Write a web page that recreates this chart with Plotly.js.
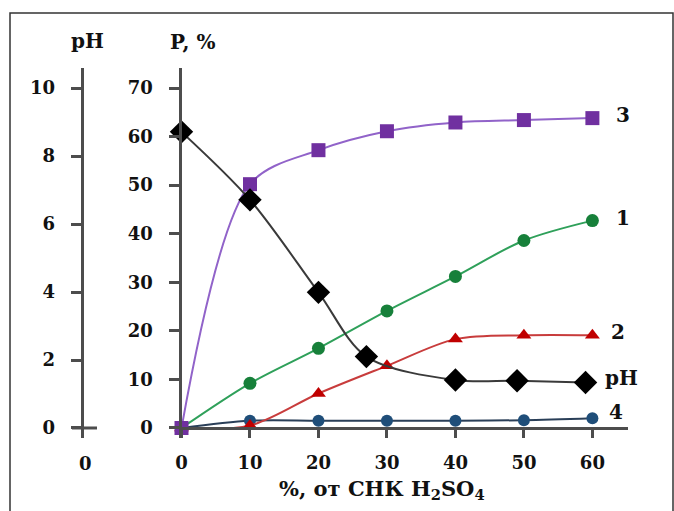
<!DOCTYPE html>
<html><head><meta charset="utf-8">
<script src="https://cdn.plot.ly/plotly-3.0.1.min.js"></script>
<style>body{margin:0;background:#fff}#chart{width:674px;height:511px}</style>
</head><body><div id="chart"></div>
<script>
// ---- data ----
const acid = [0, 10, 20, 30, 40, 50, 60];
const series1 = [0, 9.2, 16.4, 24.1, 31.2, 38.6, 42.7];
const series2 = [0, 0.5, 7.1, 12.8, 18.3, 19.1, 19.1];
const series3 = [0, 50.2, 57.2, 61.1, 62.9, 63.4, 63.8];
const series4 = [0, 1.5, 1.5, 1.5, 1.5, 1.6, 2.0];
const phAcid = [0, 10, 20, 27, 40, 49, 59];
const phValues = [8.71, 6.71, 3.99, 2.10, 1.41, 1.39, 1.34];
const xTicks = [0, 10, 20, 30, 40, 50, 60];
const pTicks = [0, 10, 20, 30, 40, 50, 60, 70];
const phTicks = [0, 2, 4, 6, 8, 10];
const names = ['1', '2', '3', '4', 'pH'];
const xTitle = '%, от СНК H<sub>2</sub>SO<sub>4</sub>';
const pTitle = 'P, %';
const phTitle = 'pH';

// ---- layout helpers ----
const W = 674, H = 511, L = 40, R = 40, T = 68, B = 73;
const pw = W - L - R, ph = H - T - B;
const px = v => (v - L) / pw;
const py = v => (H - B - v) / ph;
const FONT = 'DejaVu Serif';
const AX = '#4d4d4d';
const tf = {family: FONT, size: 18, color: '#111', weight: 700};
const pRange = [-2.06, 74.12];

function tr(x, y, name, color, lineColor, symbol, size, yaxis) {
  return {
    x: x, y: y, name: name, type: 'scatter', mode: 'lines+markers',
    yaxis: yaxis || 'y', cliponaxis: false,
    line: {color: lineColor, width: 2, shape: 'spline', smoothing: 0.9},
    marker: {color: color, symbol: symbol, size: size, line: {width: 0}}
  };
}

const data = [
  tr(acid, series4, names[3], '#1f4e79', '#2a3f58', 'circle', 12),
  tr(acid, series2, names[1], '#c00000', '#c83c3c', 'triangle-up', 13),
  tr(acid, series1, names[0], '#17803a', '#2fa05a', 'circle', 13),
  tr(acid, series3, names[2], '#7030a0', '#9163c9', 'square', 14),
  tr(phAcid, phValues, names[4], '#000000', '#3a3a3a', 'diamond', 18, 'y2')
];

const lastIdx = acid.length - 1;
const labelFont = {family: FONT, size: 20, color: '#111', weight: 700};
function seriesLabel(text, x, y, yref, xshift, yshift) {
  return {text: text, x: x, y: y, xref: 'x', yref: yref, xanchor: 'left', yanchor: 'middle',
          xshift: xshift, yshift: yshift, showarrow: false, font: labelFont};
}
function paperText(text, x, y, font) {
  return {text: text, x: px(x), y: py(y), xref: 'paper', yref: 'paper',
          xanchor: 'center', yanchor: 'middle', showarrow: false, font: font};
}

const layout = {
  width: W, height: H,
  margin: {l: L, r: R, t: T, b: B},
  paper_bgcolor: '#fff', plot_bgcolor: 'rgba(0,0,0,0)',
  showlegend: false,
  xaxis: {
    domain: [px(181.5), px(628)], range: [0, 65.2],
    anchor: 'free', position: py(428),
    showline: true, linecolor: AX, linewidth: 3,
    ticks: 'outside', ticklen: 8, tickwidth: 3, tickcolor: AX,
    tickvals: xTicks, ticktext: xTicks.map(String),
    showgrid: false, zeroline: false, tickfont: tf, ticklabelstandoff: 9
  },
  yaxis: {
    domain: [0, 1], range: pRange, anchor: 'x',
    showline: true, linecolor: AX, linewidth: 3,
    ticks: 'outside', ticklen: 10, tickwidth: 3, tickcolor: AX,
    tickvals: pTicks, ticktext: pTicks.map(String),
    showgrid: false, zeroline: false, tickfont: tf, ticklabelstandoff: 12
  },
  yaxis2: {
    overlaying: 'y', anchor: 'free', position: px(81.7), side: 'left',
    range: [pRange[0] / 7, pRange[1] / 7],
    showline: true, linecolor: AX, linewidth: 3,
    ticks: 'outside', ticklen: 10, tickwidth: 3, tickcolor: AX,
    tickvals: phTicks, ticktext: phTicks.map(String),
    showgrid: false, zeroline: false, tickfont: tf, ticklabelstandoff: 12
  },
  shapes: [
    {type: 'rect', xref: 'paper', yref: 'paper', x0: px(10), x1: px(673), y0: py(540), y1: py(13),
     line: {color: '#333', width: 1.5}, fillcolor: 'rgba(0,0,0,0)'},
    {type: 'line', xref: 'paper', yref: 'y2', x0: px(72), x1: px(97), y0: 0, y1: 0,
     line: {color: AX, width: 3}}
  ],
  annotations: [
    paperText(phTitle, 87, 41, labelFont),
    paperText(pTitle, 192, 42, labelFont),
    paperText('0', 85, 463, tf),
    paperText(xTitle, 382, 490, {family: FONT, size: 21, color: '#111', weight: 700}),
    seriesLabel(names[2], acid[lastIdx], series3[lastIdx], 'y', 22, 3),
    seriesLabel(names[0], acid[lastIdx], series1[lastIdx], 'y', 22, 3),
    seriesLabel(names[1], acid[lastIdx], series2[lastIdx], 'y', 17, 3),
    seriesLabel(names[4], phAcid[phAcid.length - 1], phValues[phValues.length - 1], 'y2', 17, 4),
    seriesLabel(names[3], acid[lastIdx], series4[lastIdx], 'y', 15, 6)
  ]
};

Plotly.newPlot('chart', data, layout, {staticPlot: true, displayModeBar: false});
</script>
</body></html>
